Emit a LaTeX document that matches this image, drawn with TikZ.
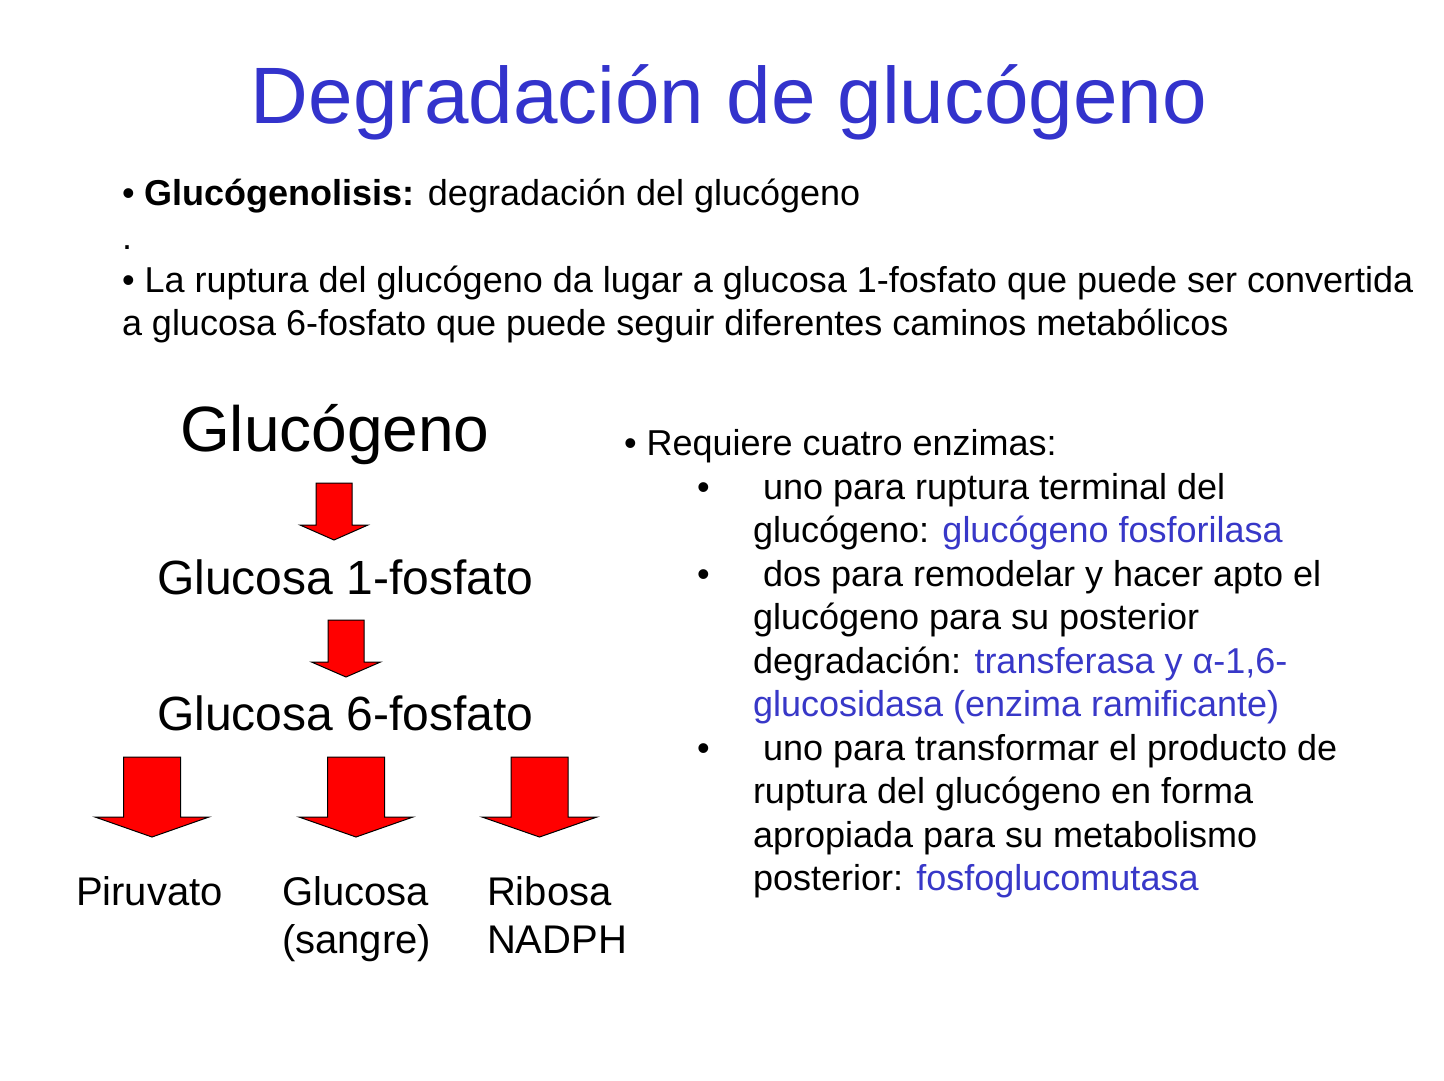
\documentclass[tikz,border=0pt]{standalone}
\usepackage{fontspec}
\setmainfont{Liberation Sans}
\definecolor{titleblue}{HTML}{3333CC}
\definecolor{enzblue}{HTML}{3838C8}
\definecolor{arrred}{HTML}{FF0000}
\tikzset{
  txt/.style={anchor=base west, inner sep=0pt, outer sep=0pt, text=black},
  body/.style={txt, font=\fontsize{36}{43}\selectfont},
  big/.style={txt, font=\fontsize{48}{58}\selectfont},
  lab/.style={txt, font=\fontsize{40}{48}\selectfont},
  blockarrow/.style={draw=black, line width=1pt, fill=arrred, line join=miter}
}
\newcommand{\myblockarrow}[6]{% cx, top, headbase, tip, shafthalf, headhalf
  \draw[blockarrow] (#1-#5,#2) -- (#1+#5,#2) -- (#1+#5,#3) -- (#1+#6,#3) -- (#1,#4) -- (#1-#6,#3) -- (#1-#5,#3) -- cycle;
}
\begin{document}
\begin{tikzpicture}[x=1pt,y=-1pt]
\useasboundingbox[fill=white] (0,0) rectangle (1444,1080);

% title
\node[txt, anchor=base, text=titleblue, font=\fontsize{80}{96}\selectfont] (title) at (729,123) {Degradación de glucógeno};

% top bullets
\node[body] (t1) at (122,205) {• \textbf{Glucógenolisis:} degradación del glucógeno};
\node[body] (t2) at (122,249) {.};
\node[body] (t3) at (122,292) {• La ruptura del glucógeno da lugar a glucosa 1-fosfato que puede ser convertida};
\node[body] (t4) at (122,335) {a glucosa 6-fosfato que puede seguir diferentes caminos metabólicos};

% pathway
\node[txt, font=\fontsize{64}{77}\selectfont] (gluc) at (180,451) {Glucógeno};
\node[big] (g1p) at (157,594) {Glucosa 1-fosfato};
\node[big] (g6p) at (157,730) {Glucosa 6-fosfato};

\myblockarrow{334}{483}{525}{540}{18}{34}
\myblockarrow{346}{620}{662}{677}{18}{34.5}

\myblockarrow{152}{757}{817}{837}{28.5}{57}
\myblockarrow{356}{757}{817}{837}{28.5}{57}
\myblockarrow{539.5}{757}{817}{837}{28.5}{57.5}

\node[lab] (pir) at (76,905) {Piruvato};
\node[lab] (glsa) at (282,905) {Glucosa};
\node[lab] (glsb) at (282,953) {(sangre)};
\node[lab] (riba) at (487,905) {Ribosa};
\node[lab] (ribb) at (487,953) {NADPH};

% right column
\node[body] (r0) at (624,455.5) {• Requiere cuatro enzimas:};
\node[body] (b1) at (697,499) {•};
\node[body] (b2) at (697,586) {•};
\node[body] (b3) at (697,760) {•};
\node[body] (r1) at (763,499) {uno para ruptura terminal del};
\node[body] (r2) at (753,542.5) {glucógeno: \textcolor{enzblue}{glucógeno fosforilasa}};
\node[body] (r3) at (763,586) {dos para remodelar y hacer apto el};
\node[body] (r4) at (753,629.5) {glucógeno para su posterior};
\node[body] (r5) at (753,673) {degradación: \textcolor{enzblue}{transferasa y α-1,6-}};
\node[body] (r6) at (753,716.5) {\textcolor{enzblue}{glucosidasa (enzima ramificante)}};
\node[body] (r7) at (763,760) {uno para transformar el producto de};
\node[body] (r8) at (753,803.5) {ruptura del glucógeno en forma};
\node[body] (r9) at (753,847) {apropiada para su metabolismo};
\node[body] (r10) at (753,890.5) {posterior: \textcolor{enzblue}{fosfoglucomutasa}};
\end{tikzpicture}
\end{document}
